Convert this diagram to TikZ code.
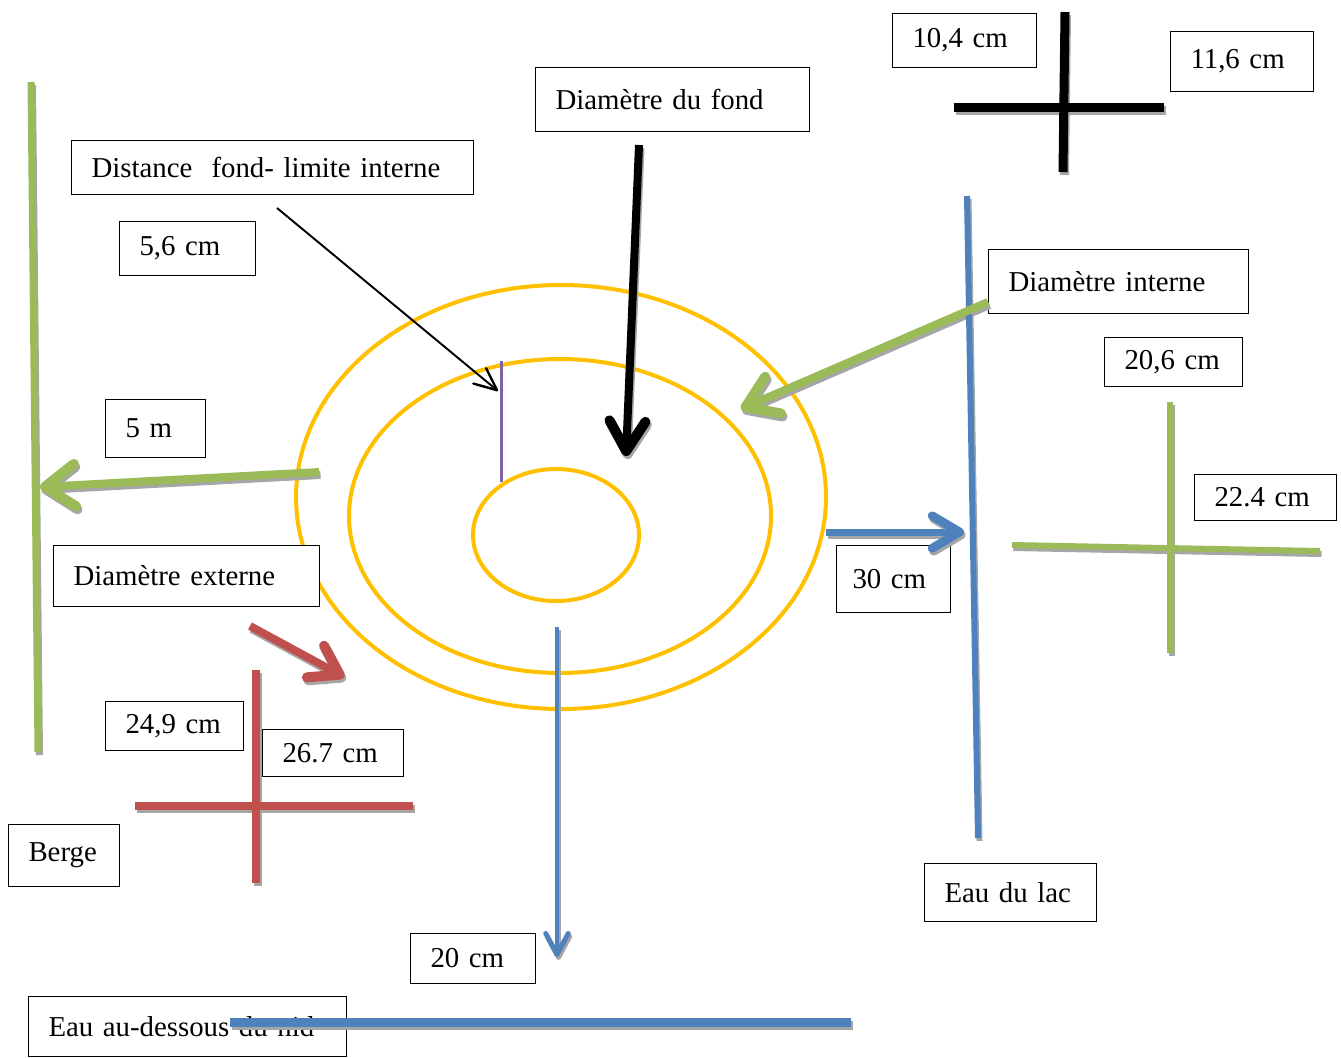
\documentclass[tikz,border=0pt]{standalone}
\usepackage{fontspec}
\setmainfont{Liberation Serif}
\usetikzlibrary{
    arrows.meta,
    calc
}

\definecolor{nestring}{HTML}{FFC000}
\definecolor{leafgreen}{HTML}{9BBB59}
\definecolor{lakeblue}{HTML}{4F81BD}
\definecolor{brickred}{HTML}{C0504D}
\definecolor{lilac}{HTML}{8064A2}
\definecolor{shadegray}{HTML}{A6A6A6}

% all thick bars, drawn once as shadow and once in colour
\newcommand\nestbars{%
    \draw[bar={leafgreen/0.14cm}] (bankTop) -- (bankBot);
    \draw[bar={lakeblue/0.12cm}] (lakeTop) -- (lakeBot);
    \draw[bar={leafgreen/0.16cm}, barb={0.6cm/0.85cm}] (bankFrom) -- (bankTo);
    \draw[bar={black/0.16cm}, barb={0.6cm/0.72cm}] (fondFrom) -- (fondTo);
    \draw[bar={leafgreen/0.16cm}, barb={0.6cm/0.8cm}] (intFrom) -- (intTo);
    \draw[bar={lakeblue/0.14cm}, barb={0.55cm/0.65cm}] (lakeFrom) -- (lakeTo);
    \draw[bar={brickred/0.16cm}, barb={0.55cm/0.72cm}] (extFrom) -- (extTo);
    \draw[bar={lakeblue/0.08cm}, barb={0.42cm/0.45cm}] (deepFrom) -- (deepTo);
    \draw[bar={black/0.18cm}] (954,107) -- (1164,107);
    \draw[bar={black/0.18cm}] (1065,12) -- (1063,172);
    \draw[bar={leafgreen/0.12cm}] (1012,545) -- (1320,551);
    \draw[bar={leafgreen/0.12cm}] (1170,402) -- (1170,653);
    \draw[bar={brickred/0.16cm}] (135,806) -- (413,806);
    \draw[bar={brickred/0.16cm}] (256,670) -- (256,883);
    \draw[bar={lakeblue/0.18cm}] (nidFrom) -- (nidTo);
}

\begin{document}
\begin{tikzpicture}[
    x=0.02cm, y=-0.02cm,
    tbox/.style={
        draw,
        line width=0.6pt,
        fill=white,
        anchor=north west,
        align=left,
        inner xsep=0.4cm,
        inner ysep=0pt,
        font=\fontsize{16.4}{20}\selectfont,
    },
    bar/.style args = {#1/#2}{
        draw=#1,
        line width=#2,
    },
    barb/.style args = {#1/#2}{
        -{Straight Barb[length=#1, width=#2, round, line width=0pt 1.25]}
    },
    ring/.style={
        draw=nestring,
        line width=0.08cm,
    },
]
    % the three rings of the nest
    \draw[ring] (561,497) ellipse [x radius=265, y radius=212];
    \draw[ring] (560,516) ellipse [x radius=211, y radius=157];
    \draw[ring] (556,535) ellipse [x radius=83,  y radius=66];

    % labels
    \node[tbox, text width=7.24cm, minimum height=1.08cm] (dist) at (71,140) {Distance\ \ fond- limite interne};
    \node[tbox, text width=1.92cm, minimum height=1.08cm] (d56) at (119,221) {5,6 cm};
    \node[tbox, text width=4.68cm, minimum height=1.28cm] (fond) at (535,67) {Diamètre du fond};
    \node[tbox, text width=2.08cm, minimum height=1.08cm] (d104) at (892,13) {10,4 cm};
    \node[tbox, text width=2.06cm, minimum height=1.2cm] (d116) at (1170,31) {11,6 cm};
    \node[tbox, text width=4.4cm, minimum height=1.28cm] (dint) at (988,249) {Diamètre interne};
    \node[tbox, text width=1.96cm, minimum height=0.98cm] (d206) at (1104,337) {20,6 cm};
    \node[tbox, text width=2.04cm, minimum height=0.92cm] (d224) at (1194,474) {22.4 cm};
    \node[tbox, text width=1.64cm, inner xsep=0.32cm, minimum height=1.34cm] (d30) at (836,545) {30 cm};
    \node[tbox, text width=1.2cm, minimum height=1.16cm] (d5m) at (105,399) {5 m};
    \node[tbox, text width=4.52cm, minimum height=1.22cm] (dext) at (53,545) {Diamètre externe};
    \node[tbox, text width=1.96cm, minimum height=0.98cm] (d249) at (105,701) {24,9 cm};
    \node[tbox, text width=2.02cm, minimum height=0.94cm] (d267) at (262,729) {26.7 cm};
    \node[tbox, text width=1.42cm, minimum height=1.24cm] (berge) at (8,824) {Berge};
    \node[tbox, text width=1.7cm, minimum height=1.0cm] (d20) at (410,933) {20 cm};
    \node[tbox, text width=2.64cm, minimum height=1.16cm] (lac) at (924,863) {Eau du lac};
    \node[tbox, text width=5.56cm, minimum height=1.2cm] (nid) at (28,996) {Eau au-dessous du nid};

    % end points of the bars and arrows
    \coordinate (bankTop) at (31,82);
    \coordinate (bankBot) at (38,752);
    \coordinate (lakeTop) at (967,196);
    \coordinate (lakeBot) at (978,838);
    \coordinate (bankFrom) at (319,472);
    \coordinate (bankTo) at (40,487);
    \coordinate (fondFrom) at (639,145);
    \coordinate (fondTo) at (626,456);
    \coordinate (intFrom) at (988,302);
    \coordinate (intTo) at (741,409);
    \coordinate (lakeFrom) at (826,532);
    \coordinate (lakeTo) at (964,532);
    \coordinate (extFrom) at (250,626);
    \coordinate (extTo) at (344,677);
    \coordinate (deepFrom) at (557,627);
    \coordinate (deepTo) at (557,957);
    \coordinate (nidFrom) at (230,1022);
    \coordinate (nidTo) at (851,1022);

    % shadows, then the bars themselves
    \begin{scope}[transform canvas={xshift=0.03cm, yshift=-0.06cm},
                  bar/.style args={#1/#2}{draw=shadegray, line width=#2}]
        \nestbars
    \end{scope}
    \nestbars

    % distance fond - limite interne
    \coordinate (limTop) at (501,361);
    \coordinate (limBot) at (501,482);
    \draw[draw=lilac, line width=0.06cm] (limTop) -- (limBot);
    \coordinate (distFrom) at (277,208);
    \coordinate (distTo) at (498,391);
    \draw[line width=1.1pt, barb={0.45cm/0.4cm}] (distFrom) -- (distTo);

    \useasboundingbox (0,0) rectangle (1341,1055);
\end{tikzpicture}
\end{document}
